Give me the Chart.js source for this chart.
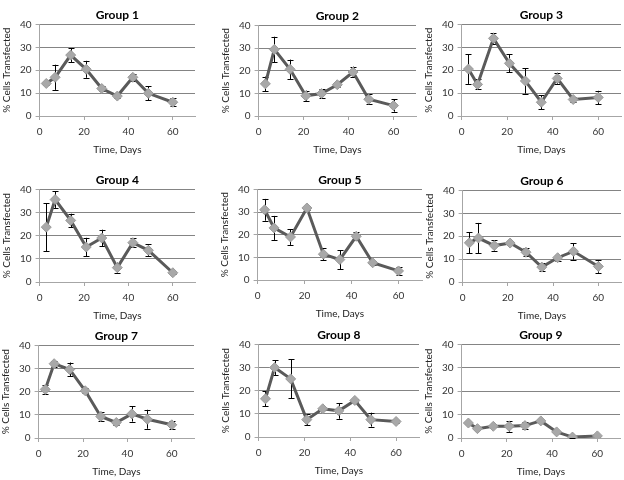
<!DOCTYPE html>
<html>
<head>
<meta charset="utf-8">
<script src="https://cdn.jsdelivr.net/npm/chart.js@4.4.0/dist/chart.umd.min.js"></script>
<style>
  body { margin: 0; background: #fff; width: 624px; height: 480px; overflow: hidden; position: relative; }
  canvas { position: absolute; }
</style>
</head>
<body>
<script>
// shared axes
const days = [3, 7, 14, 21, 28, 35, 42, 49, 60];
const xTicks = [0, 20, 40, 60];
const yTicks = [0, 10, 20, 30, 40];
const titles = ["Group 1", "Group 2", "Group 3", "Group 4", "Group 5", "Group 6", "Group 7", "Group 8", "Group 9"];

// % cells transfected, and error bar half-widths
const group1 = [14.2, 16.9, 26.6, 20.4, 12.0, 8.7, 16.9, 9.9, 6.0];
const err1   = [0.6, 5.5, 3.0, 3.7, 1.0, 1.0, 1.4, 3.0, 1.8];
const group2 = [14.2, 29.4, 20.6, 8.9, 9.9, 13.8, 19.4, 7.4, 4.6];
const err2   = [3.2, 5.6, 4.3, 2.3, 1.8, 0.8, 2.4, 2.2, 2.7];
const group3 = [20.5, 13.8, 33.9, 23.0, 15.3, 6.0, 16.4, 7.2, 8.1];
const err3   = [6.5, 2.2, 2.4, 4.0, 5.5, 3.0, 2.5, 1.0, 2.9];
const group4 = [23.7, 35.6, 26.6, 15.1, 19.0, 6.2, 17.0, 13.7, 4.0];
const err4   = [10.4, 3.6, 2.9, 4.0, 3.6, 2.2, 1.9, 2.5, 0.5];
const group5 = [31.0, 23.0, 19.0, 31.8, 11.4, 9.0, 19.3, 7.6, 4.0];
const err5   = [4.8, 5.3, 3.5, 1.0, 2.6, 4.2, 1.8, 0.8, 1.8];
const group6 = [17.1, 19.2, 15.9, 17.0, 13.0, 6.5, 10.6, 13.4, 6.8];
const err6   = [4.6, 6.6, 2.3, 1.0, 1.7, 1.7, 1.4, 3.6, 2.8];
const group7 = [21.0, 32.1, 29.6, 20.4, 9.3, 6.7, 10.4, 8.1, 5.7];
const err7   = [1.9, 1.3, 3.0, 1.0, 2.0, 1.0, 3.3, 4.1, 1.6];
const group8 = [16.5, 30.0, 25.1, 7.5, 12.2, 11.3, 15.8, 7.5, 6.7];
const err8   = [3.2, 3.2, 8.4, 2.4, 0.5, 3.4, 0.5, 3.0, 0.5];
const group9 = [6.4, 4.0, 5.0, 5.0, 5.3, 7.3, 2.6, 0.4, 0.9];
const err9   = [0.5, 0.3, 0.5, 2.3, 1.6, 0.5, 0.3, 0.3, 0.5];

const values = [group1, group2, group3, group4, group5, group6, group7, group8, group9];
const errors = [err1, err2, err3, err4, err5, err6, err7, err8, err9];

// where each plot area should land on the page
const boxes = [
  { left: 40,  top: 24,  right: 195, bottom: 116 },
  { left: 259, top: 25,  right: 416, bottom: 116 },
  { left: 462, top: 24,  right: 621, bottom: 116 },
  { left: 40,  top: 189, right: 195, bottom: 282 },
  { left: 258, top: 189, right: 422, bottom: 280 },
  { left: 463, top: 190, right: 621, bottom: 282 },
  { left: 39,  top: 345, right: 194, bottom: 438 },
  { left: 259, top: 344, right: 419, bottom: 437 },
  { left: 462, top: 344, right: 620, bottom: 438 }
];

const FONT = "Lato, 'Open Sans', sans-serif";

const errorBars = {
  id: "errorBars",
  beforeDatasetsDraw(chart) {
    const ctx = chart.ctx;
    const xs = chart.scales.x, ys = chart.scales.y;
    const errs = chart.data.datasets[0].errors;
    ctx.save();
    ctx.strokeStyle = "#000";
    ctx.lineWidth = 1;
    chart.data.datasets[0].data.forEach((p, i) => {
      const x = Math.round(xs.getPixelForValue(p.x)) + 0.5;
      const y1 = ys.getPixelForValue(p.y + errs[i]);
      const y2 = ys.getPixelForValue(p.y - errs[i]);
      ctx.beginPath();
      ctx.moveTo(x, y1); ctx.lineTo(x, y2);
      ctx.moveTo(x - 3, Math.round(y1) + 0.5); ctx.lineTo(x + 3, Math.round(y1) + 0.5);
      ctx.moveTo(x - 3, Math.round(y2) + 0.5); ctx.lineTo(x + 3, Math.round(y2) + 0.5);
      ctx.stroke();
    });
    ctx.restore();
  }
};

function config(i) {
  return {
    type: "line",
    data: {
      datasets: [{
        data: days.map((d, k) => ({ x: d, y: values[i][k] })),
        errors: errors[i],
        borderColor: "#5a5a5a",
        borderWidth: 3,
        pointStyle: "rectRot",
        pointRadius: 5,
        pointBackgroundColor: "#a8a8a8",
        pointBorderColor: "#9a9a9a",
        pointBorderWidth: 1,
        tension: 0
      }]
    },
    options: {
      responsive: false,
      animation: false,
      events: [],
      layout: { padding: 0 },
      plugins: {
        legend: { display: false },
        tooltip: { enabled: false },
        title: {
          display: true,
          text: titles[i],
          fullSize: false,
          color: "#000",
          font: { family: FONT, size: 12, weight: "bold" },
          padding: { top: 4, bottom: 2 }
        }
      },
      scales: {
        x: {
          type: "linear",
          min: 0,
          max: 70,
          afterBuildTicks: (s) => { s.ticks = xTicks.map(v => ({ value: v })); },
          ticks: { color: "#333", font: { family: FONT, size: 10 }, padding: 6, autoSkip: false, maxRotation: 0 },
          grid: { drawOnChartArea: false, drawTicks: true, tickLength: 4, color: "#a6a6a6" },
          border: { color: "#a6a6a6" },
          title: { display: true, text: "Time, Days", color: "#222", font: { family: FONT, size: 10 }, padding: { top: 0, bottom: 0 } }
        },
        y: {
          min: 0,
          max: 40,
          afterBuildTicks: (s) => { s.ticks = yTicks.map(v => ({ value: v })); },
          ticks: { color: "#333", font: { family: FONT, size: 10 }, padding: 4 },
          grid: { color: "#848484", tickLength: 4, tickColor: "#a6a6a6" },
          border: { color: "#a6a6a6" },
          title: { display: true, text: "% Cells Transfected", color: "#222", font: { family: FONT, size: 10 }, padding: { top: 0, bottom: 3 } }
        }
      }
    },
    plugins: [errorBars]
  };
}

function makeChart(i) {
  const t = boxes[i];
  // first pass: measure plot area for a trial canvas size
  const probe = document.createElement("canvas");
  probe.width = 220; probe.height = 165;
  document.body.appendChild(probe);
  let chart = new Chart(probe, config(i));
  const a = chart.chartArea;
  const w = 220 + (t.right - t.left) - (a.right - a.left);
  const h = 165 + (t.bottom - t.top) - (a.bottom - a.top);
  chart.destroy();
  probe.remove();

  const canvas = document.createElement("canvas");
  canvas.width = Math.round(w); canvas.height = Math.round(h);
  document.body.appendChild(canvas);
  chart = new Chart(canvas, config(i));
  const b = chart.chartArea;
  canvas.style.left = Math.round(t.left - b.left) + "px";
  canvas.style.top = Math.round(t.top - b.top) + "px";
}

for (let i = 0; i < 9; i++) makeChart(i);
</script>
</body>
</html>
